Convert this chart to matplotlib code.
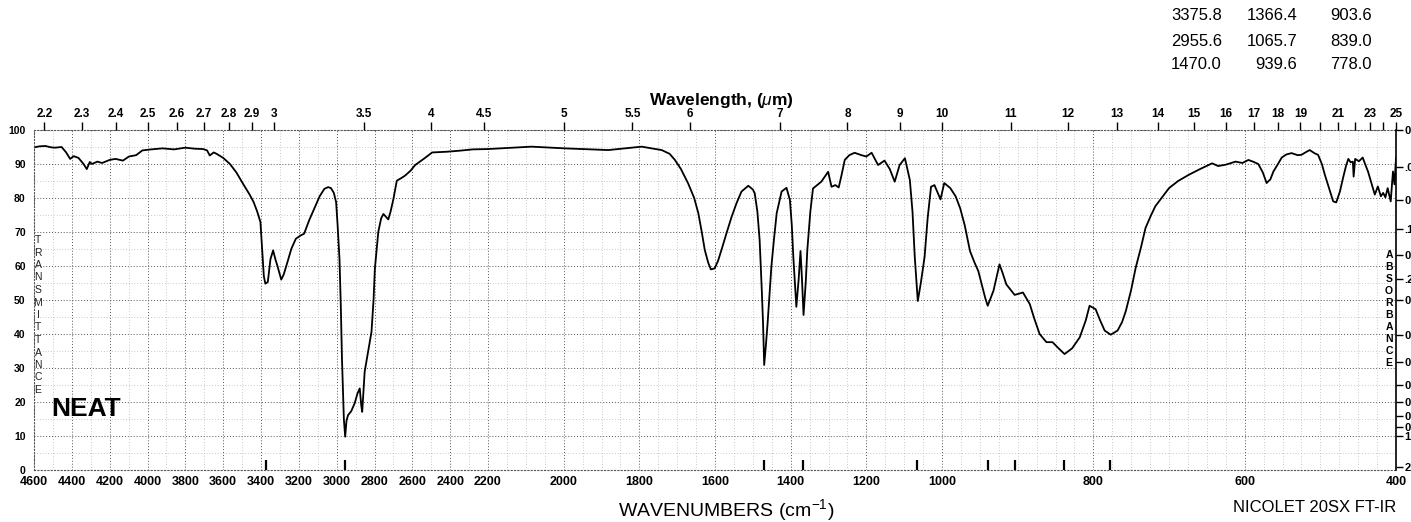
import numpy as np
import matplotlib
matplotlib.use("Agg")
import matplotlib.pyplot as plt

plt.rcParams['font.family'] = ['Liberation Sans', 'DejaVu Sans']
plt.rcParams['mathtext.fontset'] = 'custom'
plt.rcParams['mathtext.rm'] = 'Liberation Sans'
plt.rcParams['mathtext.it'] = 'Liberation Sans:italic'
plt.rcParams['mathtext.bf'] = 'Liberation Sans:bold'

# spectrum, wavenumber (cm-1) vs % transmittance
wavenumber = [
    4600, 4570, 4540, 4510, 4490, 4454, 4430, 4409, 4390, 4365, 4338, 4321,
    4305, 4294, 4265, 4240, 4200, 4169, 4130, 4098, 4060, 4027, 3980, 3920,
    3860, 3800, 3750, 3706, 3685, 3671, 3650, 3635, 3600, 3564, 3530, 3493,
    3460, 3439, 3420, 3403, 3394, 3385, 3377, 3364, 3350, 3336, 3324, 3314,
    3293, 3280, 3261, 3240, 3216, 3190, 3172, 3145, 3119, 3090, 3065, 3045,
    3030, 3015, 3003, 2995, 2985, 2978, 2972, 2962, 2955, 2948, 2940, 2923,
    2905, 2890, 2878, 2870, 2865, 2852, 2830, 2816, 2805, 2798, 2780, 2765,
    2753, 2740, 2727, 2715, 2700, 2682, 2660, 2638, 2610, 2585, 2540, 2495,
    2420, 2353, 2280, 2200,
    2085, 1997, 1882, 1794, 1741, 1720, 1706, 1690, 1671, 1655, 1644, 1635,
    1627, 1618, 1611, 1601, 1592, 1583, 1570, 1556, 1543, 1530, 1512, 1500,
    1495, 1488, 1482, 1476, 1473, 1470, 1466, 1461, 1451, 1444, 1437, 1424,
    1411, 1402, 1397, 1393, 1385, 1379, 1374, 1370, 1366, 1360, 1356, 1348,
    1341, 1330, 1319, 1301, 1292, 1282, 1273, 1265, 1257, 1245, 1231, 1213,
    1200, 1186, 1169, 1152, 1138, 1125, 1112, 1098, 1085, 1078, 1072, 1064,
    1056, 1046, 1038, 1029, 1020, 1004,
    997, 989, 982, 976, 970, 963, 957, 952, 943, 939.6, 932, 924, 920, 915,
    904, 893, 884, 878, 871, 862, 854, 846, 838, 828, 818, 810, 805, 797,
    791, 785, 777, 768, 762, 757, 750, 744, 737, 731, 724, 718, 700, 688,
    674, 660, 643, 635, 625, 612, 603, 595, 588, 582, 576, 571, 566, 562,
    556, 551, 545, 538, 530, 525, 519, 514, 508, 503, 498, 494, 488, 483,
    479, 474, 470, 466, 463, 460, 457, 456, 454, 449, 444, 440, 437, 432,
    428, 424, 420, 417, 414, 411, 407, 404, 402, 400,
]
transmittance = [
    94.9, 95.2, 95.3, 94.9, 94.8, 95.0, 93.4, 91.5, 92.3, 91.8, 90.0, 88.5,
    90.6, 90.0, 90.7, 90.3, 91.2, 91.5, 91.0, 92.2, 92.6, 94.0, 94.3, 94.6,
    94.3, 94.8, 94.5, 94.4, 94.0, 92.5, 93.4, 93.0, 91.8, 90.0, 87.5, 84.0,
    81.0, 78.8, 76.0, 72.9, 65.0, 57.0, 54.8, 55.3, 62.0, 64.6, 62.0, 60.2,
    56.0, 57.5, 61.0, 65.0, 68.0, 69.0, 69.5, 73.5, 76.8, 80.5, 82.7, 83.2,
    82.9, 81.5, 78.8, 72.0, 62.0, 48.0, 32.8, 15.0, 9.8, 14.5, 16.1, 17.3,
    19.6, 22.5, 24.0, 19.0, 17.1, 28.9, 36.0, 40.6, 50.0, 59.2, 70.0, 74.0,
    75.3, 74.5, 73.7, 76.0, 79.7, 85.1, 85.8, 86.6, 88.0, 89.7, 91.5, 93.4,
    93.6, 93.9, 94.3, 94.4,
    95.1, 94.6, 94.1, 95.1, 94.1, 93.0, 91.2, 88.5, 84.3, 80.0, 75.5, 70.0,
    64.7, 61.0, 59.0, 59.3, 61.5, 64.7, 69.5, 74.5, 78.5, 81.9, 83.6, 82.5,
    81.4, 76.0, 67.6, 52.0, 43.1, 30.9, 36.0, 43.1, 59.8, 68.0, 75.5, 81.9,
    83.0, 79.4, 72.0, 62.7, 48.0, 55.9, 64.4, 55.9, 45.6, 55.5, 64.7, 76.0,
    82.8, 83.8, 84.8, 87.7, 83.3, 83.8, 83.1, 87.0, 91.2, 92.6, 93.3, 92.6,
    92.2, 93.3, 89.7, 91.0, 88.5, 84.8, 89.7, 91.7, 85.3, 76.0, 62.7, 49.7,
    55.0, 62.7, 74.0, 83.3, 83.8, 79.6,
    84.4, 82.9, 80.5, 77.0, 72.0, 64.4, 61.0, 58.5, 50.7, 48.3, 52.7, 60.5,
    58.0, 54.6, 51.5, 52.2, 48.8, 44.5, 40.0, 37.6, 37.6, 35.8, 34.1, 35.8,
    39.0, 44.0, 48.3, 47.3, 44.0, 41.0, 39.8, 41.0, 43.5, 46.8, 53.0, 59.5,
    65.5, 71.2, 74.8, 77.6, 82.9, 85.0, 86.8, 88.4, 90.2, 89.4, 89.8, 90.7,
    90.3, 91.2, 90.6, 90.0, 87.5, 84.4, 85.5, 87.8, 90.0, 91.9, 92.8, 93.2,
    92.6, 92.7, 93.5, 94.1, 93.2, 92.7, 90.0, 86.8, 82.5, 79.0, 78.7, 82.0,
    85.9, 89.5, 91.5, 90.5, 90.7, 86.3, 91.5, 90.8, 91.9, 89.5, 87.8, 84.0,
    81.0, 83.4, 80.5, 81.5, 80.2, 82.9, 79.0, 87.8, 84.0, 91.7,
]

peaks = [3375.8, 2955.6, 1470.0, 1366.4, 1065.7, 939.6, 903.6, 839.0, 778.0]

wn_ticks = [4600, 4400, 4200, 4000, 3800, 3600, 3400, 3200, 3000, 2800,
            2600, 2400, 2200, 2000, 1800, 1600, 1400, 1200, 1000, 800, 600, 400]
um_ticks = [2.2, 2.3, 2.4, 2.5, 2.6, 2.7, 2.8, 2.9, 3, 3.5, 4, 4.5, 5, 5.5,
            6, 7, 8, 9, 10, 11, 12, 13, 14, 15, 16, 17, 18, 19, 21, 23, 25]
um_unlabeled = [20, 22, 24]
absorb_ticks = [0, 0.05, 0.1, 0.15, 0.2, 0.25, 0.3, 0.4, 0.5, 0.6, 0.7,
                0.8, 0.9, 1.0, 2.0]
absorb_labels = ['0', '.05', '0.1', '.15', '0.2', '.25', '0.3', '0.4', '0.5',
                 '0.6', '0.7', '0.8', '0.9', '1.0', '2.0']

# chart paper changes scale at 2200 and 1000 cm-1
breaks = [400, 1000, 2200, 4600]


def forward(w):
    return np.interp(w, breaks, [0, 1, 2, 3])


def inverse(u):
    return np.interp(u, [0, 1, 2, 3], breaks)


W, H = 1411, 522


def fx(x):
    return x / W


def fy(y):
    return 1 - y / H


fig = plt.figure(figsize=(W / 100, H / 100), dpi=100)
ax = fig.add_axes([fx(34), fy(470), (1396 - 34) / W, (470 - 130) / H])
ax.set_xscale('function', functions=(forward, inverse))
ax.set_xlim(4600, 400)
ax.set_ylim(0, 100)

minor_x = list(range(4600, 2200, -100)) + list(range(2200, 1000, -50)) + \
    list(range(1000, 399, -25))
ax.set_xticks(wn_ticks)
ax.set_xticks(minor_x, minor=True)
ax.set_xticklabels([str(t) for t in wn_ticks], fontsize=9, fontweight='bold')
ax.set_yticks(range(0, 101, 10))
ax.set_yticks(range(0, 101, 5), minor=True)
ax.set_yticklabels([str(t) for t in range(0, 101, 10)], fontsize=7.5,
                   fontweight='bold')
ax.tick_params(which='both', length=0)
ax.tick_params(axis='x', pad=4)
ax.tick_params(axis='y', pad=6)
ax.grid(which='major', color='#555555', lw=0.7, ls=(0, (1, 2)))
ax.grid(which='minor', color='#999999', lw=0.5, ls=(0, (1, 3)))
for s in ['left', 'top', 'bottom']:
    ax.spines[s].set_linestyle((0, (1, 2)))
    ax.spines[s].set_color('#555555')
    ax.spines[s].set_linewidth(0.8)
ax.spines['right'].set_visible(False)

ax.plot(wavenumber, transmittance, color='black', lw=1.3)
ax.vlines(peaks, 0, 3, color='black', lw=1.6)

# wavelength scale along the top
axt = ax.twiny()
axt.set_xscale('function', functions=(forward, inverse))
axt.set_xlim(4600, 400)
axt.set_xticks([1e4 / l for l in um_ticks])
axt.set_xticklabels(['%g' % l for l in um_ticks], fontsize=8.5,
                    fontweight='bold')
axt.set_xticks([1e4 / l for l in um_unlabeled], minor=True)
axt.tick_params(which='both', direction='out', length=6, width=1, pad=1)
for s in axt.spines.values():
    s.set_visible(False)

# absorbance scale on the right, runs off the sheet edge
axr = ax.twinx()
axr.set_ylim(0, 100)
axr.set_yticks([100 * 10 ** (-a) for a in absorb_ticks])
axr.set_yticklabels(absorb_labels, fontsize=8, fontweight='bold')
axr.tick_params(direction='out', length=5, width=1, pad=1)
axr.tick_params(axis='x', which='both', length=0, labelbottom=False)
for s in ['left', 'top', 'bottom']:
    axr.spines[s].set_visible(False)
axr.spines['right'].set_linewidth(1.2)

fig.text(fx(721), fy(101), 'Wavelength, ($\\mu$m)', fontsize=12.5,
         fontweight='bold', ha='center', va='center')
fig.text(fx(726), fy(510), 'WAVENUMBERS (cm$^{-1}$)', fontsize=14,
         ha='center', va='center')
fig.text(fx(1315), fy(507), 'NICOLET 20SX FT-IR', fontsize=12,
         ha='center', va='center')
fig.text(fx(51), fy(409), 'NEAT', fontsize=19, fontweight='bold',
         ha='left', va='center')

for i, ch in enumerate('TRANSMITTANCE'):
    fig.text(fx(38), fy(240 + i * 12.5), ch, fontsize=7.5, color='#222222',
             ha='center', va='center')
for i, ch in enumerate('ABSORBANCE'):
    fig.text(fx(1389), fy(255 + i * 12), ch, fontsize=7.5, fontweight='bold',
             ha='center', va='center')

# peak table, three columns
col_right = [1222, 1297, 1372]
row_y = [16, 41, 65]
for k, p in enumerate(peaks):
    fig.text(fx(col_right[k // 3]), fy(row_y[k % 3]), '%.1f' % p,
             fontsize=12, ha='right', va='center')

fig.savefig('out.png', dpi=100)
